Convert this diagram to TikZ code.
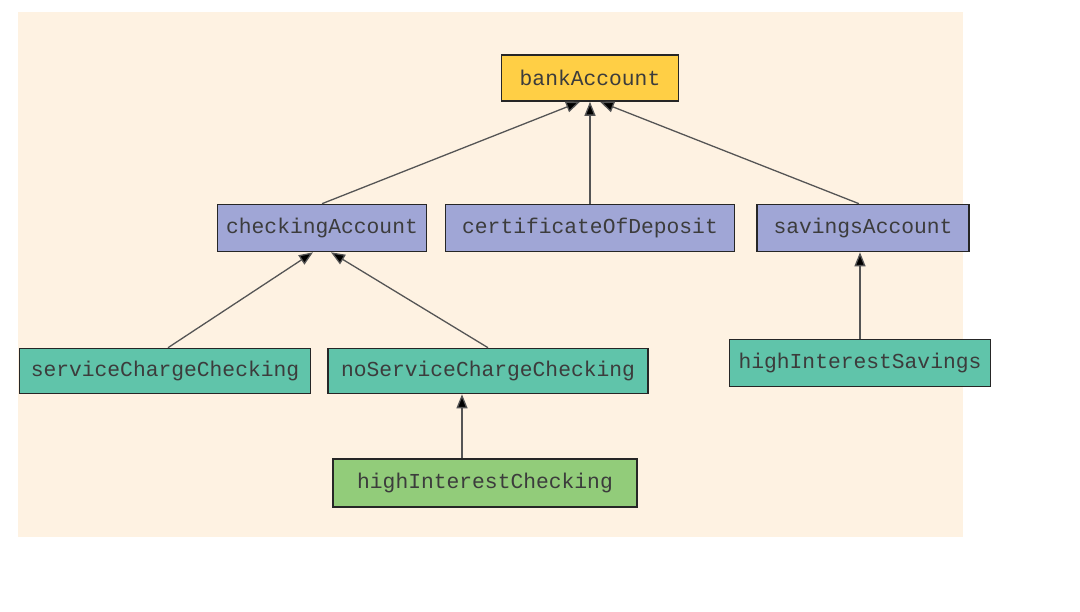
\documentclass[tikz,border=0pt]{standalone}
\usepackage{fontspec}
\setmonofont{Liberation Mono}
\usetikzlibrary{arrows.meta}
\definecolor{bgc}{HTML}{FEF2E2}
\definecolor{goldc}{HTML}{FFCF45}
\definecolor{bluec}{HTML}{A0A6D6}
\definecolor{tealc}{HTML}{60C4AA}
\definecolor{greenc}{HTML}{92CC7A}
\definecolor{txtc}{HTML}{3C3C3C}
\definecolor{linec}{HTML}{555555}
\tikzset{
  cls/.style={draw=black!85, line width=1.6pt, inner sep=0pt, text=txtc,
    font=\ttfamily\fontsize{21.3}{25}\selectfont},
  gold/.style={cls, fill=goldc},
  blue/.style={cls, fill=bluec},
  teal/.style={cls, fill=tealc},
  green/.style={cls, fill=greenc},
  inh/.style={draw=linec, line width=1.3pt, -{Triangle[length=14pt,width=11pt,fill=black]}}
}
\begin{document}
\begin{tikzpicture}[x=1pt,y=-1pt]
\useasboundingbox (0,0) rectangle (1080,612);
\fill[bgc] (18,12) rectangle (963,537);
\node[gold, minimum width=177pt, minimum height=46pt] (bank) at (590,78) {bankAccount};
\node[blue, minimum width=209pt, minimum height=47pt] (chk) at (322,228) {checkingAccount};
\node[blue, minimum width=289pt, minimum height=47pt] (cod) at (590,228) {certificateOfDeposit};
\node[blue, minimum width=212pt, minimum height=47pt] (sav) at (863,228) {savingsAccount};
\node[teal, minimum width=291pt, minimum height=45pt] (scc) at (165,371) {serviceChargeChecking};
\node[teal, minimum width=320pt, minimum height=45pt] (nscc) at (488,371) {noServiceChargeChecking};
\node[green, minimum width=304pt, minimum height=48pt] (hic) at (485,483) {highInterestChecking};
\node[teal, minimum width=261pt, minimum height=47pt] (his) at (860,363) {highInterestSavings};
% inheritance arrows
\draw[inh] (chk.north) -- ([xshift=-10pt]bank.south);
\draw[inh] (cod.north) -- (bank.south);
\draw[inh] ([xshift=-4pt]sav.north) -- ([xshift=10pt]bank.south);
\draw[inh] ([xshift=3pt]scc.north) -- ([xshift=-9pt]chk.south);
\draw[inh] (nscc.north) -- ([xshift=9pt]chk.south);
\coordinate (hicTop) at ([xshift=-23pt]hic.north);
\draw[inh] (hicTop) -- (hicTop |- nscc.south);
\draw[inh] (his.north) -- (his.north |- sav.south);
\end{tikzpicture}
\end{document}
